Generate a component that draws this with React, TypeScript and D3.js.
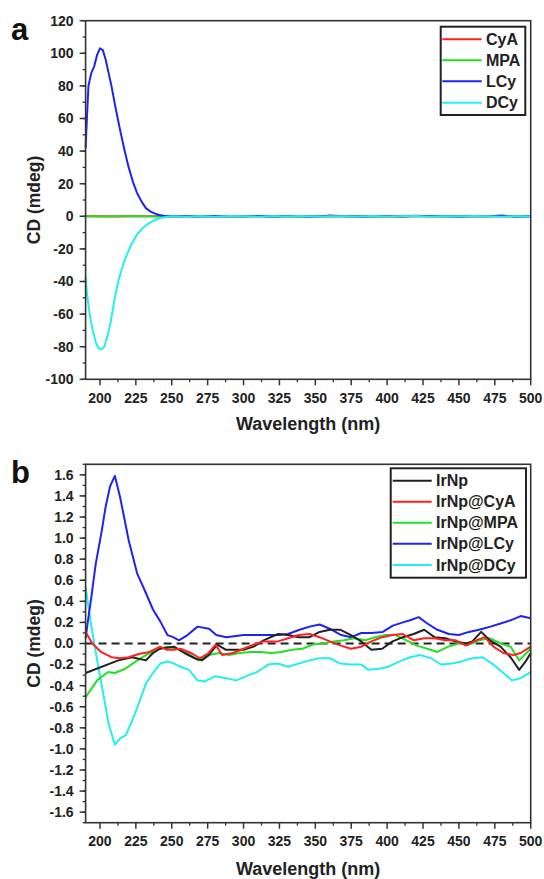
import React from "react";
import * as d3 from "d3";

// ---------- Panel a data ----------
const lcyWl = [190, 191, 192, 194, 196, 198, 200, 202, 204, 206, 208, 211, 214, 217, 220, 223, 226, 229, 232, 235, 238, 241, 245, 250, 260, 270, 280, 290, 300, 310, 320, 330, 340, 350, 360, 370, 380, 390, 400, 410, 420, 430, 440, 450, 460, 470, 480, 490, 500];
const lcyVal = [42, 62, 80, 88, 92, 99, 103, 102, 96, 88, 80, 66, 53, 41, 30, 21, 14, 9, 5, 3, 1.8, 0.8, 0.2, 0, 0.1, -0.2, 0.2, 0, -0.1, 0.2, -0.3, 0.1, 0, -0.4, 0.5, 0.1, -0.2, 0, 0.2, -0.2, 0.3, 0, 0.1, -0.3, 0.2, 0, 0.5, -0.3, 0];
const dcyWl = [190, 191, 193, 195, 197, 199, 201, 203, 205, 207, 209, 211, 213, 216, 219, 222, 226, 230, 234, 238, 242, 246, 250, 260, 270, 280, 290, 300, 310, 320, 330, 340, 350, 360, 370, 380, 390, 400, 410, 420, 430, 440, 450, 460, 470, 480, 490, 500];
const dcyVal = [-37, -48, -61, -70, -77, -81, -81.5, -80, -74, -67, -57, -47, -39, -30, -23, -17, -11, -7, -4.3, -2.3, -1.1, -0.4, 0, -0.2, 0.1, -0.3, 0.2, 0, -0.2, 0.1, -0.1, 0.2, -0.3, 0.1, 0, -0.2, 0.2, -0.1, 0, 0.2, -0.2, 0.1, -0.1, 0.2, 0, -0.2, 0.1, -0.1];
const flatWl = [190, 200, 210, 220, 230, 240, 250, 260, 270, 280, 290, 300, 310, 320, 330, 340, 350, 360, 370, 380, 390, 400, 410, 420, 430, 440, 450, 460, 470, 480, 490, 500];
const cyaVal = [0, 0.1, -0.1, 0, 0.1, 0, -0.1, 0.1, 0, -0.1, 0, 0.1, 0, -0.1, 0.1, 0, 0, -0.1, 0.1, 0, 0, 0.1, -0.1, 0, 0.1, 0, -0.1, 0, 0.1, 0, -0.1, 0];
const mpaVal = [0, -0.1, 0, 0.1, 0, -0.1, 0, 0, 0.1, 0, -0.1, 0, 0.1, 0, 0, -0.1, 0.1, 0, 0, 0.1, -0.1, 0, 0, 0.1, 0, -0.1, 0, 0.1, 0, 0, 0.1, 0];

// ---------- Panel b data ----------
const bLcyWl = [190, 192, 194, 197, 201, 204, 207, 210.4, 214, 220, 226, 231, 237, 242, 247, 251, 255, 261, 268, 276, 281, 288, 300, 312, 324, 331, 339, 346, 353, 360, 368, 375, 382, 389, 397, 404, 411, 416, 422, 428, 435, 443, 450, 457, 464, 472, 479, 486, 493, 500];
const bLcyVal = [0.05, 0.25, 0.44, 0.75, 1.05, 1.3, 1.49, 1.59, 1.39, 0.98, 0.66, 0.51, 0.32, 0.21, 0.08, 0.06, 0.03, 0.08, 0.16, 0.14, 0.08, 0.06, 0.08, 0.08, 0.08, 0.09, 0.13, 0.16, 0.18, 0.14, 0.08, 0.06, 0.1, 0.1, 0.11, 0.17, 0.2, 0.22, 0.25, 0.19, 0.13, 0.09, 0.08, 0.11, 0.13, 0.16, 0.19, 0.22, 0.26, 0.24];
const bDcyWl = [190, 193, 196, 201, 206, 210.4, 214, 218, 222.5, 227, 232, 237, 242, 247, 251.5, 256, 262, 268, 273, 280.5, 288, 295, 302, 309.5, 317, 324, 331, 338.5, 346, 353, 360, 367.6, 375, 382, 387, 394, 401, 408.6, 416, 423, 430.6, 437.7, 445, 452, 459, 466.7, 474, 481, 487, 493, 500];
const bDcyVal = [0.54, 0.25, 0, -0.38, -0.76, -0.96, -0.9, -0.87, -0.73, -0.57, -0.38, -0.28, -0.19, -0.17, -0.19, -0.22, -0.25, -0.35, -0.36, -0.31, -0.33, -0.35, -0.31, -0.27, -0.2, -0.19, -0.22, -0.19, -0.16, -0.14, -0.14, -0.19, -0.2, -0.2, -0.25, -0.24, -0.22, -0.17, -0.13, -0.11, -0.14, -0.2, -0.19, -0.17, -0.14, -0.13, -0.2, -0.28, -0.35, -0.33, -0.27];
const bIrWl = [190, 212.8, 222.5, 232, 237, 241.8, 251.5, 258.8, 266, 271, 275.7, 281.7, 287.8, 295, 300, 307, 314, 319, 324, 331, 338.5, 346, 353, 360, 367.6, 374.8, 382, 389, 396.6, 403.8, 411, 418.5, 425.8, 433, 440.5, 447.8, 455, 459.4, 465.5, 471.5, 479, 486, 492, 497, 500];
const bIrVal = [-0.28, -0.16, -0.13, -0.16, -0.09, -0.05, -0.03, -0.09, -0.14, -0.16, -0.11, -0.01, -0.06, -0.06, -0.06, -0.03, 0.03, 0.06, 0.09, 0.08, 0.06, 0.06, 0.11, 0.13, 0.13, 0.08, 0.02, -0.06, -0.05, 0.02, 0.06, 0.09, 0.13, 0.06, 0.05, 0.02, 0, 0.02, 0.11, 0.03, -0.03, -0.13, -0.25, -0.16, -0.09];
const bCyaWl = [190, 194.7, 200.7, 208, 214, 220, 227, 234.6, 241.8, 246.7, 251.5, 256, 263.6, 269.6, 275.7, 280.5, 285, 292.6, 300, 307, 314, 324, 331, 338.5, 346, 353, 360, 367.6, 374.8, 382, 389, 396.6, 403.8, 411, 418.5, 425.8, 433, 440.5, 447.8, 455, 462, 468, 474, 481, 488, 493, 500];
const bCyaVal = [0.11, 0, -0.08, -0.13, -0.14, -0.13, -0.1, -0.08, -0.03, -0.06, -0.06, -0.05, -0.09, -0.14, -0.09, -0.01, -0.11, -0.09, -0.05, -0.01, 0.02, 0.02, 0.05, 0.08, 0.09, 0.06, 0.02, -0.02, -0.05, -0.03, 0.02, 0.06, 0.08, 0.09, 0.03, 0.05, 0.05, 0.03, 0.03, -0.02, 0.03, 0.06, -0.03, -0.09, -0.11, -0.09, -0.03];
const bMpaWl = [190, 198, 205.6, 210.4, 217.6, 225, 232, 239.4, 246.7, 254, 261, 268.4, 275.7, 283, 290, 297.5, 304.7, 312, 319, 326.5, 333.7, 341, 348, 355.6, 362.7, 370, 377, 384.6, 391.7, 399, 406, 413.5, 420.7, 428, 435, 442.5, 450, 457, 464, 471.5, 479, 486, 492, 497, 500];
const bMpaVal = [-0.51, -0.35, -0.27, -0.28, -0.24, -0.17, -0.11, -0.06, -0.03, -0.05, -0.09, -0.16, -0.11, -0.09, -0.11, -0.09, -0.08, -0.08, -0.09, -0.08, -0.06, -0.05, -0.01, 0, 0.02, 0.03, 0.05, 0.03, 0.06, 0.08, 0.08, 0.03, -0.02, -0.05, -0.08, -0.03, 0, -0.01, 0.03, 0.05, 0, -0.03, -0.16, -0.09, -0.05];

const aLabels = ["CyA", "MPA", "LCy", "DCy"];
const bLabels = ["IrNp", "IrNp@CyA", "IrNp@MPA", "IrNp@LCy", "IrNp@DCy"];
const xTicks = [200, 225, 250, 275, 300, 325, 350, 375, 400, 425, 450, 475, 500];
const aYTicks = [-100, -80, -60, -40, -20, 0, 20, 40, 60, 80, 100, 120];
const bYTicks = [-1.6, -1.4, -1.2, -1.0, -0.8, -0.6, -0.4, -0.2, 0, 0.2, 0.4, 0.6, 0.8, 1.0, 1.2, 1.4, 1.6];

const RED = "#ff2020";
const GREEN = "#22e022";
const BLUE = "#2222f0";
const CYAN = "#22f0f0";
const BLACK = "#222222";
const FONT = "'Liberation Sans', Arial, sans-serif";
const FRAME = "#333";

type Series = { wl: number[]; val: number[]; color: string };

function Panel(props: {
  top: number; bottom: number; domain: [number, number]; yTicks: number[]; minorStep: number;
  fmt: (v: number) => string; series: Series[]; labels: string[]; colors: string[];
  legend: { x0: number; x1: number; y0: number; y1: number; lx0: number; lx1: number; tx: number; rows: number[] };
  letter: string; letterY: number; tickLabelY: number; titleY: number; zeroDash?: boolean;
}) {
  const left = 85.6, right = 530.7;
  const x = d3.scaleLinear().domain([190, 500]).range([left, right]);
  const y = d3.scaleLinear().domain(props.domain).range([props.bottom, props.top]);
  const line = d3.line<[number, number]>().x((d) => x(d[0])).y((d) => y(d[1]));
  const xMinor = d3.range(212.5, 500, 25);
  const [d0, d1] = props.domain;
  const yMinor: number[] = [];
  const nMin = Math.ceil(d0 / props.minorStep - 1e-6), nMax = Math.floor(d1 / props.minorStep + 1e-6);
  for (let i = nMin; i <= nMax; i++) yMinor.push(i * props.minorStep);
  const midY = (props.top + props.bottom) / 2;
  const L = props.legend;
  return (
    <g>
      <text x={11} y={props.letterY} fontFamily={FONT} fontWeight="bold" fontSize={31} fill="#111">{props.letter}</text>
      {props.zeroDash && (
        <line x1={left} x2={right} y1={y(0)} y2={y(0)} stroke={BLACK} strokeWidth={1.8} strokeDasharray="8,5" />
      )}
      {props.series.map((s, i) => (
        <path key={i} d={line(s.wl.map((w, j) => [w, s.val[j]] as [number, number])) || ""} fill="none" stroke={s.color} strokeWidth={2} strokeLinejoin="round" />
      ))}
      <rect x={left} y={props.top} width={right - left} height={props.bottom - props.top} fill="none" stroke={FRAME} strokeWidth={1.6} />
      {yMinor.map((v) => (
        <line key={"ym" + v} x1={left - 3} x2={left} y1={y(v)} y2={y(v)} stroke={FRAME} strokeWidth={1.3} />
      ))}
      {props.yTicks.map((v) => (
        <g key={"y" + v}>
          <line x1={left - 6} x2={left} y1={y(v)} y2={y(v)} stroke={FRAME} strokeWidth={1.5} />
          <text x={left - 12} y={y(v)} dy="0.35em" textAnchor="end" fontFamily={FONT} fontWeight="bold" fontSize={14} fill="#222">{props.fmt(v)}</text>
        </g>
      ))}
      {xMinor.map((v) => (
        <line key={"xm" + v} x1={x(v)} x2={x(v)} y1={props.bottom} y2={props.bottom + 3} stroke={FRAME} strokeWidth={1.3} />
      ))}
      {xTicks.map((v) => (
        <g key={"x" + v}>
          <line x1={x(v)} x2={x(v)} y1={props.bottom} y2={props.bottom + 6} stroke={FRAME} strokeWidth={1.5} />
          <text x={x(v)} y={props.tickLabelY} textAnchor="middle" fontFamily={FONT} fontWeight="bold" fontSize={14} fill="#222">{v}</text>
        </g>
      ))}
      <text x={(left + right) / 2} y={props.titleY} textAnchor="middle" fontFamily={FONT} fontWeight="bold" fontSize={18} fill="#222">Wavelength (nm)</text>
      <text transform={`translate(40,${midY}) rotate(-90)`} textAnchor="middle" fontFamily={FONT} fontWeight="bold" fontSize={17.5} fill="#222">CD (mdeg)</text>
      <rect x={L.x0} y={L.y0} width={L.x1 - L.x0} height={L.y1 - L.y0} fill="#fff" stroke="#222" strokeWidth={2} />
      {props.labels.map((lab, i) => (
        <g key={lab}>
          <line x1={L.lx0} x2={L.lx1} y1={L.rows[i]} y2={L.rows[i]} stroke={props.colors[i]} strokeWidth={2} />
          <text x={L.tx} y={L.rows[i]} dy="0.36em" fontFamily={FONT} fontWeight="bold" fontSize={16} fill="#222">{lab}</text>
        </g>
      ))}
    </g>
  );
}

export default function App() {
  const fmtA = (v: number) => String(v);
  const fmtB = (v: number) => (Math.abs(v) < 1e-9 ? "0.0" : v.toFixed(1));
  const aSeries: Series[] = [
    { wl: flatWl, val: cyaVal, color: RED },
    { wl: flatWl, val: mpaVal, color: GREEN },
    { wl: lcyWl, val: lcyVal, color: BLUE },
    { wl: dcyWl, val: dcyVal, color: CYAN },
  ];
  const bSeries: Series[] = [
    { wl: bDcyWl, val: bDcyVal, color: CYAN },
    { wl: bLcyWl, val: bLcyVal, color: BLUE },
    { wl: bMpaWl, val: bMpaVal, color: GREEN },
    { wl: bIrWl, val: bIrVal, color: BLACK },
    { wl: bCyaWl, val: bCyaVal, color: RED },
  ];
  return (
    <svg width={544} height={879} style={{ position: "absolute", left: 0, top: 0, background: "#fff" }}>
      <rect x={0} y={0} width={544} height={879} fill="#fff" />
      <Panel top={20.7} bottom={379.3} domain={[-100, 120]} yTicks={aYTicks} minorStep={10} fmt={fmtA}
        series={aSeries} labels={aLabels} colors={[RED, GREEN, BLUE, CYAN]}
        legend={{ x0: 440.7, x1: 525.3, y0: 26.7, y1: 115, lx0: 442.3, lx1: 481.7, tx: 486, rows: [39.3, 60.3, 81.3, 102.7] }}
        letter="a" letterY={40} tickLabelY={403} titleY={430} />
      <Panel top={464.3} bottom={822.7} domain={[-1.7, 1.7]} yTicks={bYTicks} minorStep={0.1} fmt={fmtB}
        series={bSeries} labels={bLabels} colors={[BLACK, RED, GREEN, BLUE, CYAN]}
        legend={{ x0: 390.7, x1: 526, y0: 468.3, y1: 577.7, lx0: 392.7, lx1: 431.7, tx: 436, rows: [480.7, 501.7, 522.7, 543.7, 565] }}
        letter="b" letterY={483} tickLabelY={846} titleY={875} zeroDash />
    </svg>
  );
}
